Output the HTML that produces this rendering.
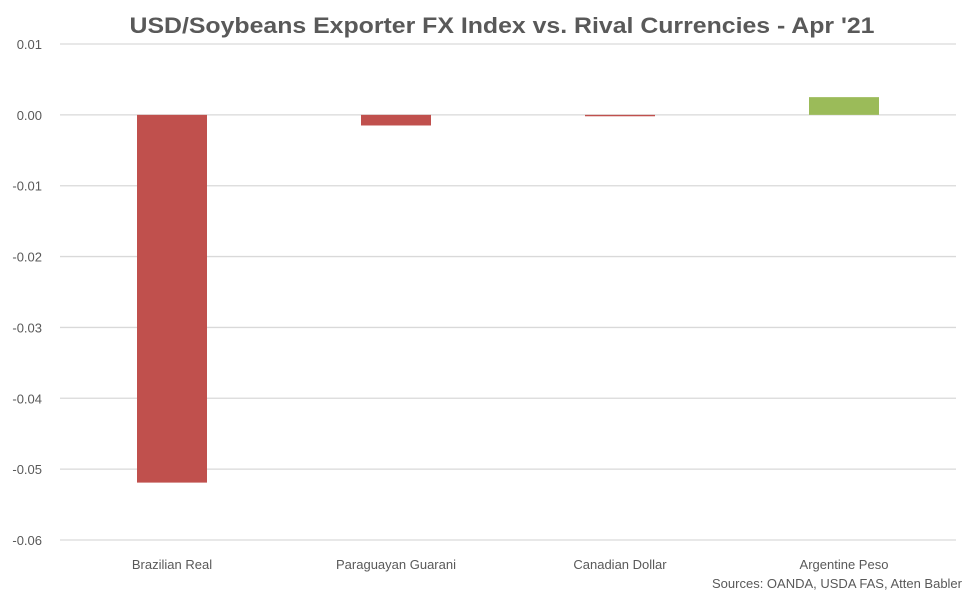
<!DOCTYPE html>
<html><head><meta charset="utf-8"><style>
html,body{margin:0;padding:0;background:#fff;}
svg{display:block;font-family:"Liberation Sans",Arial,sans-serif;}
</style></head><body>
<svg id="chart" width="975" height="601" viewBox="0 0 975 601">
<text x="502" y="33" text-anchor="middle" font-size="22" font-weight="bold" fill="#595959" textLength="745" lengthAdjust="spacingAndGlyphs">USD/Soybeans Exporter FX Index vs. Rival Currencies - Apr '21</text>
<g id="grid"></g>
<g id="yaxis"></g>
<g id="bars"></g>
<g id="xaxis"></g>
<text x="962" y="588" text-anchor="end" font-size="13" fill="#595959">Sources: OANDA, USDA FAS, Atten Babler</text>
</svg>
<script>
const categories = ["Brazilian Real","Paraguayan Guarani","Canadian Dollar","Argentine Peso"];
const values = [-0.0519,-0.0015,-0.0002,0.0025];
const yTicks = [0.01,0.00,-0.01,-0.02,-0.03,-0.04,-0.05,-0.06];
const yTickLabels = ["0.01","0.00","-0.01","-0.02","-0.03","-0.04","-0.05","-0.06"];

const NS="http://www.w3.org/2000/svg";
const plotL=60, plotR=956, yTop=44, yBot=540, vMax=0.01, vMin=-0.06;
function y(v){return yTop+(vMax-v)/(vMax-vMin)*(yBot-yTop);}
const band=(plotR-plotL)/categories.length;
function xc(i){return plotL+band*(i+0.5);}
function mk(tag,attrs,parent){const e=document.createElementNS(NS,tag);for(const k in attrs)e.setAttribute(k,attrs[k]);parent.appendChild(e);return e;}
const grid=document.getElementById('grid'), ya=document.getElementById('yaxis'), bars=document.getElementById('bars'), xa=document.getElementById('xaxis');
yTicks.forEach((t,i)=>{
  const l=mk('line',{x1:plotL,x2:plotR,y1:y(t),y2:y(t),stroke:'#d9d9d9','stroke-width':1.3},grid);
  
  
  const tx=mk('text',{x:42,y:y(t)+5,'text-anchor':'end','font-size':13,fill:'#595959'},ya);
  tx.textContent=yTickLabels[i];
  
  
});
const bw=70;
values.forEach((v,i)=>{
  const y0=y(0), y1=y(v);
  const r=mk('rect',{x:xc(i)-bw/2,y:Math.min(y0,y1),width:bw,height:Math.max(1,Math.abs(y1-y0)),fill:v<0?'#c0504d':'#9bbb59'},bars);
  
  
  const t=mk('text',{x:xc(i),y:569,'text-anchor':'middle','font-size':13,fill:'#595959'},xa);
  t.textContent=categories[i];
  
  
});
</script>
</body></html>
